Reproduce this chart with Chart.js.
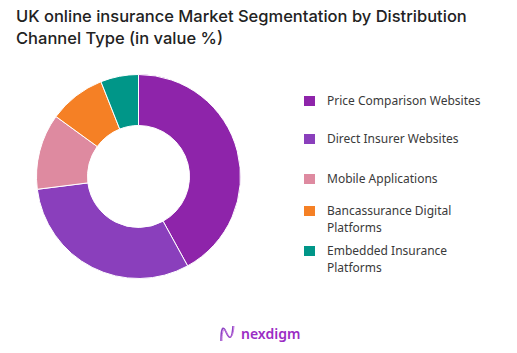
<!DOCTYPE html>
<html>
<head>
<meta charset="utf-8">
<script src="https://cdn.jsdelivr.net/npm/chart.js@4.4.0/dist/chart.umd.min.js"></script>
<style>
  html, body { margin: 0; padding: 0; background: #fff; }
  #page { position: relative; width: 517px; height: 353px; overflow: hidden; }
  #title {
    position: absolute; left: 16px; top: 5px;
    font-family: Inter, sans-serif; font-size: 16.5px; font-weight: 500;
    line-height: 22px; color: #222;
  }
  #chartBox { position: absolute; left: 36px; top: 74px; width: 205px; height: 205px; }
  #legend {
    position: absolute; left: 304px; top: 92px; margin: 0; padding: 0; list-style: none;
    font-family: "Noto Sans", sans-serif; font-size: 12px; line-height: 17px; color: #3a3a3a;
  }
  #legend li { position: relative; padding-left: 23px; }
  #legend li span.box { position: absolute; left: 0; top: 4px; width: 11px; height: 10px; }
  #legend li:nth-child(2) { margin-top: 21px; }
  #legend li:nth-child(3) { margin-top: 23px; }
  #legend li:nth-child(4) { margin-top: 15px; }
  #legend li:nth-child(5) { margin-top: 6px; }
  #logo {
    position: absolute; left: 219px; top: 324px; display: flex; align-items: center;
    font-family: "Noto Sans", sans-serif; font-size: 14px; font-weight: 600; color: #9b2cc4;
  }
  #logo svg { margin-right: 5px; }
</style>
</head>
<body>
<div id="page">
  <div id="title">UK online insurance Market Segmentation by Distribution<br>Channel Type (in value %)</div>
  <div id="chartBox"><canvas id="chart"></canvas></div>
  <ul id="legend"></ul>
  <div id="logo">
    <svg width="17" height="19" viewBox="0 0 17 19">
      <path d="M2 17 C2 4, 4 1, 7 8 C10 15, 13 17, 14 2" fill="none" stroke="#8e44c4" stroke-width="1.6"/>
      <path d="M3 17 C3 6, 5 3, 8 9 C11 15, 14 15, 15 2" fill="none" stroke="#c77be0" stroke-width="1"/>
    </svg>
    <span>nexdigm</span>
  </div>
</div>
<script>
const categories = [
  'Price Comparison Websites',
  'Direct Insurer Websites',
  'Mobile Applications',
  'Bancassurance Digital Platforms',
  'Embedded Insurance Platforms'
];
const legendLines = [
  ['Price Comparison Websites'],
  ['Direct Insurer Websites'],
  ['Mobile Applications'],
  ['Bancassurance Digital', 'Platforms'],
  ['Embedded Insurance', 'Platforms']
];
const shareValues = [42, 31, 12, 9, 6];
const segmentColors = ['#8e24aa', '#8a3fbc', '#de8aa0', '#f58025', '#009688'];

const ctx = document.getElementById('chart').getContext('2d');
const chart = new Chart(ctx, {
  type: 'doughnut',
  data: {
    labels: categories,
    datasets: [{
      data: shareValues,
      backgroundColor: segmentColors,
      borderColor: '#ffffff',
      borderWidth: 1,
      hoverOffset: 0
    }]
  },
  options: {
    responsive: true,
    maintainAspectRatio: false,
    animation: false,
    cutout: '50%',
    layout: { padding: 0 },
    plugins: {
      legend: { display: false },
      tooltip: { enabled: false }
    }
  }
});

// html legend built from the chart data
const legendEl = document.getElementById('legend');
chart.data.labels.forEach((label, i) => {
  const li = document.createElement('li');
  const box = document.createElement('span');
  box.className = 'box';
  box.style.background = chart.data.datasets[0].backgroundColor[i];
  li.appendChild(box);
  const text = document.createElement('span');
  text.innerHTML = legendLines[i].join('<br>');
  li.appendChild(text);
  legendEl.appendChild(li);
});
</script>
</body>
</html>
